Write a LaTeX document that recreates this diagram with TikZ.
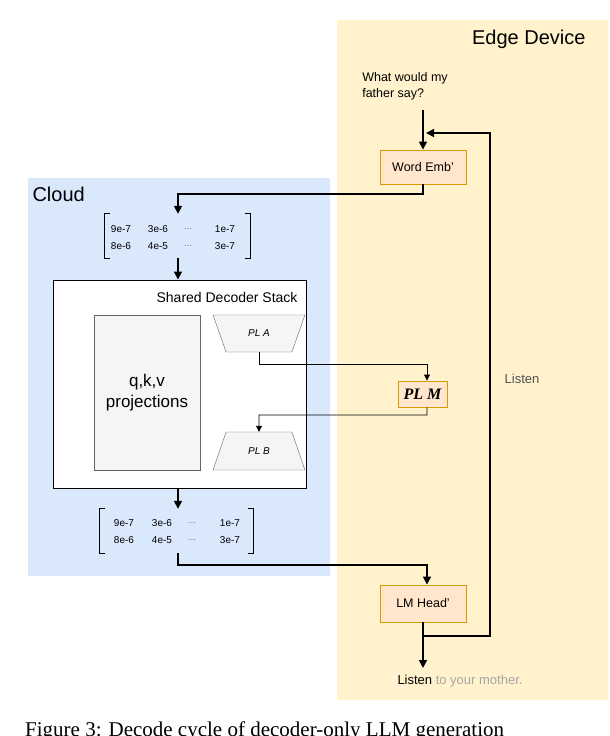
\documentclass[tikz,border=0pt]{standalone}
\usepackage{fontspec}
\setmainfont{Liberation Sans}
\newfontfamily\capfont{Liberation Serif}
\usetikzlibrary{arrows.meta,shapes.geometric}
\definecolor{edgef}{HTML}{FFF2CC}
\definecolor{cloudf}{HTML}{DAE8FC}
\definecolor{boxf}{HTML}{FFE6CC}
\definecolor{boxd}{HTML}{D79B00}
\definecolor{grf}{HTML}{F5F5F5}
\definecolor{grd}{HTML}{666666}
\tikzset{
 ob/.style={draw=boxd,fill=boxf,line width=0.9pt,inner sep=0pt,font=\fontsize{12.5}{15}\selectfont},
 thick arrow/.style={line width=1.6pt,-{Triangle[length=8pt,width=8pt]}},
 thin arrow/.style={line width=0.9pt,-{Triangle[length=6pt,width=6pt]}},
 mat/.style={font=\fontsize{10}{11}\selectfont,inner sep=0pt},
 trap/.style={trapezium,draw=grd,fill=grf,trapezium stretches=true,inner sep=0pt,font=\fontsize{10}{11}\selectfont\itshape}
}
\begin{document}
\begin{tikzpicture}[x=1pt,y=-1pt]
\useasboundingbox (0,0) rectangle (610,736);
\clip (0,0) rectangle (610,736);
\fill[edgef] (337,20) rectangle (608,700);
\fill[cloudf] (28,178) rectangle (330,576);
\node[anchor=east,font=\fontsize{20}{24}\selectfont] (edgeT) at (589,39) {Edge Device};
\node[anchor=west,font=\fontsize{20}{24}\selectfont] (cloudT) at (29,194) {Cloud};
\node[align=left,font=\fontsize{12.5}{16}\selectfont,inner sep=0pt] (q) at (405,86) {What would my\\father say?};
\node[ob,minimum width=86pt,minimum height=34pt] (we) at (423,167) {Word Emb'};
\node[ob,minimum width=86pt,minimum height=37pt] (lm) at (423,603.5) {LM Head'};
\node[ob,minimum width=49pt,minimum height=26pt,font=\capfont\fontsize{16}{18}\selectfont\bfseries\itshape] (plm) at (422.5,394) {PL M};
\node[font=\fontsize{13}{15}\selectfont,text=grd!80!black] (lis) at (522,379) {Listen};
\node[font=\fontsize{13}{15}\selectfont,inner sep=0pt] (out) at (460,681) {Listen \textcolor{gray!70}{to your mother.}};
\coordinate (qb) at (423,110);
\coordinate (loopin) at (426,133);
\coordinate (outt) at (423,668);
% decoder
\node[draw,fill=white,line width=0.9pt,minimum width=253pt,minimum height=208pt,inner sep=0pt] (dec) at (179.5,384) {};
\node[anchor=east,font=\fontsize{14}{17}\selectfont] (decT) at (301,297) {Shared Decoder Stack};
\node[draw=grd,fill=grf,minimum width=106pt,minimum height=155pt,align=center,font=\fontsize{17}{21}\selectfont,inner sep=0pt] (qkv) at (147,392.5) {q,k,v\\projections};
\node[trap,shape border rotate=180,minimum width=92pt,minimum height=37pt,trapezium left angle=58,trapezium right angle=58] (pla) at (259,333.5) {PL A};
\node[trap,minimum width=92pt,minimum height=38pt,trapezium left angle=58,trapezium right angle=58] (plb) at (259,451) {PL B};
% matrices
\foreach \n/\cx/\cy/\w in {m1/177.5/236/145, m2/176.5/531/153}{
 \node[minimum width=\w pt,minimum height=44pt,inner sep=0pt] (\n) at (\cx,\cy) {};
 \draw[line width=0.9pt] ([xshift=5pt]\n.north west) -- (\n.north west) -- (\n.south west) -- ([xshift=5pt]\n.south west);
 \draw[line width=0.9pt] ([xshift=-5pt]\n.north east) -- (\n.north east) -- (\n.south east) -- ([xshift=-5pt]\n.south east);
}
\node[mat] (a11) at (121,229) {9e-7}; \node[mat] (a12) at (158,229) {3e-6};
\node[mat,text=gray] (a13) at (188,229) {...}; \node[mat] (a14) at (225,229) {1e-7};
\node[mat] (a21) at (121,246) {8e-6}; \node[mat] (a22) at (158,246) {4e-5};
\node[mat,text=gray] (a23) at (188,246) {...}; \node[mat] (a24) at (225,246) {3e-7};
\node[mat] (b11) at (124,523) {9e-7}; \node[mat] (b12) at (162,523) {3e-6};
\node[mat,text=gray] (b13) at (192,523) {...}; \node[mat] (b14) at (230,523) {1e-7};
\node[mat] (b21) at (124,540) {8e-6}; \node[mat] (b22) at (162,540) {4e-5};
\node[mat,text=gray] (b23) at (192,540) {...}; \node[mat] (b24) at (230,540) {3e-7};
% connectors
\draw[thick arrow] (qb) -- (we.north);
\draw[thick arrow] (lm.south) -- (outt);
\draw[thick arrow] (lm.south) |- (490,636) -- (490,133) -- (loopin);
\draw[thick arrow] (we.south) |- (178,194) -- (m1.north -| 178,0);
\draw[thick arrow] (m1.south -| 178,0) -- (dec.north -| 178,0);
\draw[thick arrow] (dec.south -| 178,0) -- (m2.north -| 178,0);
\draw[thick arrow] (m2.south -| 178,0) |- (427,565) -- (lm.north -| 427,0);
\draw[thin arrow] (pla.south) |- (427,364) -- (plm.north -| 427,0);
\draw[thin arrow] (plm.south -| 427,0) |- (259,415) -- (plb.north);
\node[anchor=west,font=\capfont\fontsize{21}{24}\selectfont,inner sep=0pt] (cap) at (25,731) {Figure 3: Decode cycle of decoder-only LLM generation};
\end{tikzpicture}
\end{document}
